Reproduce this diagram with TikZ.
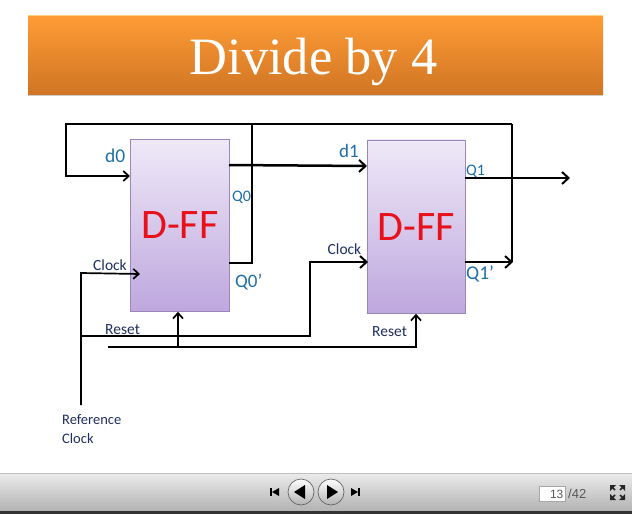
\documentclass[tikz,border=0pt]{standalone}
\usepackage{fontspec}
\setmainfont{Carlito}
\newfontfamily\serifttl{Liberation Serif}
\newfontfamily\uifont{Liberation Sans}
\usetikzlibrary{arrows.meta,shadows,calc}
\definecolor{lblue}{HTML}{1F6FA8}
\definecolor{navy}{HTML}{1F2F5F}
\definecolor{ffred}{HTML}{E8101A}
\definecolor{fftop}{HTML}{EFE9F8}
\definecolor{ffbot}{HTML}{BEA7DE}
\definecolor{ffedge}{HTML}{9A86B8}
\definecolor{ttop}{HTML}{FF9C35}
\definecolor{tmid}{HTML}{F58F2E}
\definecolor{tbot}{HTML}{D07524}
\definecolor{tline}{HTML}{FFD27A}
\tikzset{
  wire/.style={draw=black,line width=1.7pt},
  thick wire/.style={draw=black,line width=2.5pt},
  arr/.style={-{Straight Barb[length=5.5pt,width=10pt,line width=1.7pt]}},
  bigarr/.style={-{Straight Barb[length=6.5pt,width=12pt,line width=2pt]}},
  ffbox/.style={draw=ffedge,line width=.8pt,top color=fftop,bottom color=ffbot,
     inner sep=0pt,font=\fontsize{42}{42}\selectfont,text=ffred,drop shadow={shadow xshift=1pt,shadow yshift=-1pt,opacity=.25}},
  bluelbl/.style={text=lblue,inner sep=0pt,anchor=west},
  navylbl/.style={text=navy,inner sep=0pt,anchor=west,font=\fontsize{15.5}{16}\selectfont},
  navbtn/.style={circle,draw=black!60,line width=.7pt,minimum size=26pt,inner sep=0pt,top color=white,bottom color=black!30},
}
\begin{document}
\begin{tikzpicture}[x=1pt,y=-1pt]
\useasboundingbox (0,0) rectangle (632,514);
\fill[white] (0,0) rectangle (632,514);
% title
\node[minimum width=575pt,minimum height=79pt,inner sep=0pt,anchor=north west,
      top color=ttop,middle color=tmid,bottom color=tbot,
      drop shadow={shadow xshift=0pt,shadow yshift=-1.5pt,opacity=.4}] (title) at (28,15) {};
\draw[tline,line width=1pt] (title.north west) -- (title.north east);
\node[inner sep=0pt,text=white,font=\serifttl\fontsize{52.5}{52}\selectfont] (ttext) at (313.5,62) {Divide by 4};
% boxes
\node[ffbox,minimum width=99pt,minimum height=172pt,anchor=north west] (ff0) at (130,139) {D-FF};
\node[ffbox,minimum width=98pt,minimum height=173.5pt,anchor=north west] (ff1) at (367,139.5) {D-FF};
% coordinates
\coordinate (tl) at (66,124);
\coordinate (tr) at (512,124);
\coordinate (tm) at (252,124);
\coordinate (d0) at (130,176);
\coordinate (q0) at (229,165);
\coordinate (d1) at (367,166);
\coordinate (q0n) at (229,263);
\coordinate (ck0) at (140,274);
\coordinate (refb) at (81,405);
\coordinate (ckc) at (81,273);
\coordinate (rs) at (81,336);
\coordinate (rs2) at (310,336);
\coordinate (rs3) at (310,262);
\coordinate (ck1) at (368,262);
\coordinate (rl) at (108,347);
\coordinate (rj) at (178,347);
\coordinate (rr) at (416,347);
\coordinate (q1) at (465,178);
\coordinate (q1o) at (570,178);
\coordinate (q1n) at (465,262);
\coordinate (q1e) at (513,262);
% wires
\draw[wire,arr] (tr) -- (tl) -- (tl |- d0) -- (d0);
\draw[wire] (q0n) -- (tm |- q0n) -- (tm);
\draw[thick wire,bigarr] (q0) -- (d1);
\draw[wire] (tr) -- (tr |- q1e);
\draw[wire,arr] (refb) -- (ckc) -- (ck0);
\draw[wire,bigarr] (rs) -- (rs2) -- (rs3) -- (ck1);
\draw[wire] (rl) -- (rj);
\draw[wire,arr] (rj) -- (rr) -- (rr |- ff1.south);
\draw[wire,arr] (rj) -- (rj |- ff0.south);
\draw[thick wire,bigarr] (q1) -- (q1o);
\draw[thick wire,bigarr] (q1n) -- (q1e);
% labels
\node[bluelbl,font=\fontsize{19.5}{18}\selectfont] (ld0) at (105,156) {d0};
\node[bluelbl,font=\fontsize{16}{16}\selectfont] (lq0) at (232,197) {Q0};
\node[bluelbl,font=\fontsize{19}{18}\selectfont] (lq0n) at (235,282) {Q0’};
\node[bluelbl,font=\fontsize{19}{18}\selectfont] (ld1) at (339,151) {d1};
\node[bluelbl,font=\fontsize{16}{16}\selectfont] (lq1) at (466,171) {Q1};
\node[bluelbl,font=\fontsize{19.5}{18}\selectfont] (lq1n) at (466,274) {Q1’};
\node[navylbl] (lc0) at (93,265.5) {Clock};
\node[navylbl] (lc1) at (327.5,249) {Clock};
\node[navylbl] (lr0) at (105,329.5) {Reset};
\node[navylbl] (lr1) at (372,331.5) {Reset};
\node[navylbl,align=left,anchor=north west,font=\fontsize{14.5}{19}\selectfont] (lref) at (62,414) {Reference\\Clock};
% toolbar
\fill[top color=black!8,bottom color=black!30] (0,473.5) rectangle (632,511);
\draw[black!25,line width=.8pt] (0,473.5) -- (632,473.5);
\fill[black!80] (0,511) rectangle (632,514);
\node[navbtn] (bprev) at (301,492) {};
\node[navbtn] (bnext) at (331,492) {};
\fill[black] (294,492) -- (305,485) -- (305,499) -- cycle;
\fill[black] (338,492) -- (327,485) -- (327,499) -- cycle;
\fill[black] (270,488) rectangle (272,496);
\fill[black] (272,492) -- (279,488) -- (279,496) -- cycle;
\fill[black] (358,488) rectangle (360,496);
\fill[black] (358,492) -- (351,488) -- (351,496) -- cycle;
\node[draw=black!35,fill=white,minimum width=26pt,minimum height=15pt,inner sep=1pt,anchor=west,align=right,
      text=black!65,font=\uifont\fontsize{12}{12}\selectfont] (page) at (539,494) {\hspace*{9pt}13};
\node[anchor=west,inner sep=0pt,text=black!65,font=\uifont\fontsize{13}{13}\selectfont] (tot) at (568,493.5) {/42};
\foreach \sx/\sy in {1/1,-1/1,1/-1,-1/-1}{
  \fill[black!85] ($(617.5,492.5)+(\sx*7.5,\sy*7.5)$) -- ++(-\sx*6,0) -- ++(\sx*6,-\sy*6) -- cycle;
  \draw[black!85,line width=1.6pt] ($(617.5,492.5)+(\sx*5,\sy*5)$) -- ($(617.5,492.5)+(\sx*2.5,\sy*2.5)$);
}
\end{tikzpicture}
\end{document}
